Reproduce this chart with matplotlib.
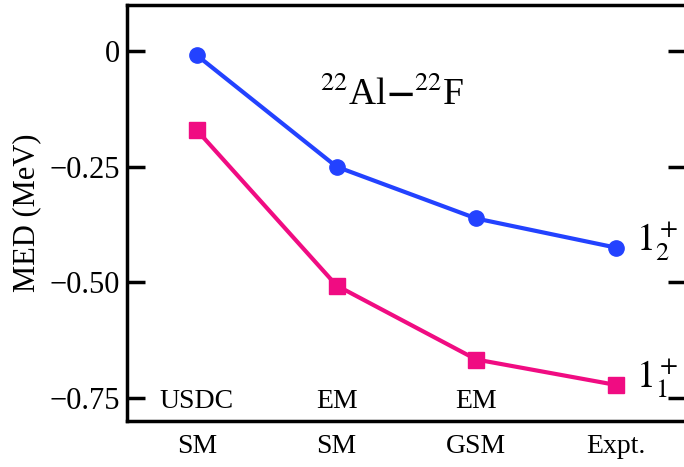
import numpy as np
import matplotlib
matplotlib.use('Agg')
import matplotlib.pyplot as plt

plt.rcParams['font.family'] = 'Liberation Serif'
plt.rcParams['mathtext.fontset'] = 'stix'

methods = ['SM', 'SM', 'GSM', 'Expt.']
interactions = ['USDC', 'EM', 'EM']
med_1_2 = [-0.009, -0.250, -0.362, -0.425]
med_1_1 = [-0.171, -0.507, -0.667, -0.722]
yticks = [0, -0.25, -0.50, -0.75]
ytick_labels = ['0', '\u22120.25', '\u22120.50', '\u22120.75']

blue = '#2342FF'
pink = '#F00C82'

fig = plt.figure(figsize=(6.84, 4.67), dpi=100)
ax = fig.add_axes([0.1857, 0.0985, 0.817, 0.891])

x = np.arange(len(methods))
ax.plot(x, med_1_2, '-o', color=blue, lw=3, ms=11, clip_on=False)
ax.plot(x, med_1_1, '-s', color=pink, lw=3, ms=11, clip_on=False)

ax.set_xlim(-0.5, 3.5)
ax.set_ylim(-0.8, 0.1)

ax.set_xticks(x)
ax.set_xticklabels(methods, fontsize=20)
ax.tick_params(axis='x', length=0, pad=9)

ax.set_yticks(yticks)
ax.set_yticklabels(ytick_labels, fontsize=22)
ax.tick_params(axis='y', direction='in', length=13, width=2.5, right=True, pad=5)

for s in ax.spines.values():
    s.set_linewidth(2.5)

ax.set_ylabel('MED (MeV)', fontsize=22, labelpad=6)

for i, lab in enumerate(interactions):
    ax.text(x[i], -0.757, lab, fontsize=20, ha='center', va='center')

ax.text(1.40, -0.095, r'$^{22}$Al$\mathbf{-}$$^{22}$F', fontsize=27,
        ha='center', va='center')
ax.text(3.14, -0.41, r'$1_2^+$', fontsize=27, ha='left', va='center')
ax.text(3.14, -0.707, r'$1_1^+$', fontsize=27, ha='left', va='center')

fig.savefig('out.png', dpi=100)
